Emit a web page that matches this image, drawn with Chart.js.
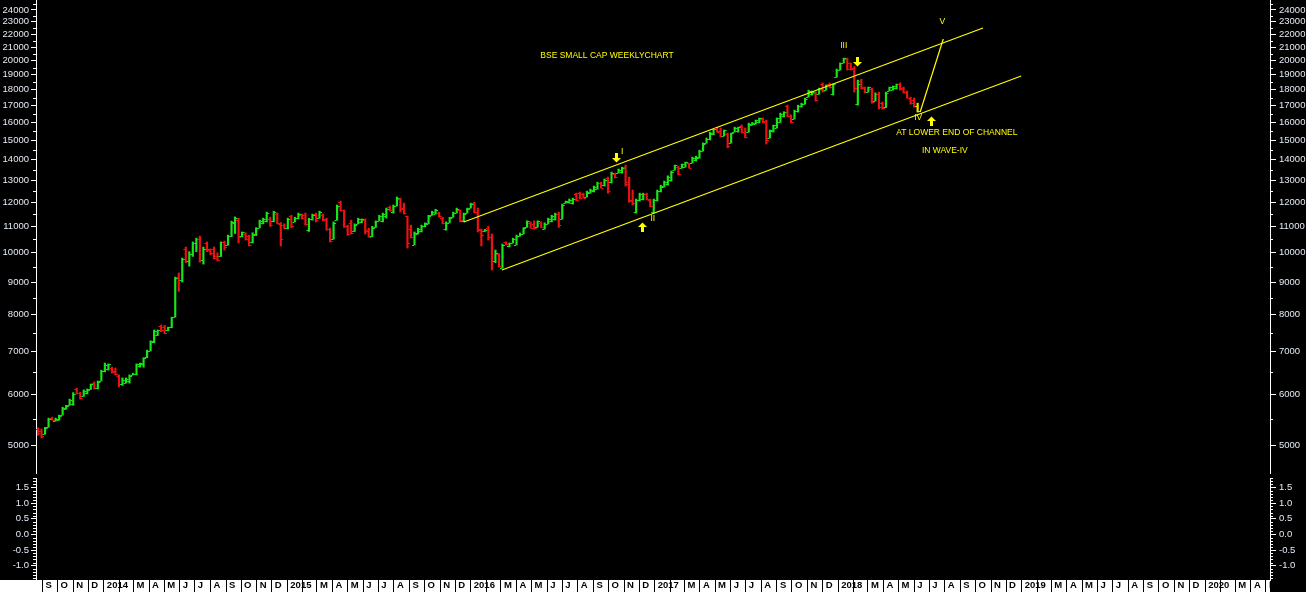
<!DOCTYPE html>
<html>
<head>
<meta charset="utf-8">
<script src="https://cdn.jsdelivr.net/npm/chart.js@4.4.1/dist/chart.umd.min.js"></script>
<style>
html,body{margin:0;padding:0;background:#000;overflow:hidden;}
#c{display:block;}
</style>
</head>
<body>
<canvas id="c" width="1306" height="592"></canvas>
<script>
// ---------------- DATA ----------------
const firstWeek = [2013, 7, 23];          // first weekly bar: 23 Aug 2013
const axisStart = [2013, 7, 19];          // x axis begins
const axisEnd   = [2020, 4, 9];           // x axis ends

const opens = [
5290,5260,5200,5340,5520,5460,5480,5580,5700,5770,5800,6120,6040,5960,6030,6110,6260,6150,6300,6520,
6580,6600,6540,6420,6220,6260,6300,6440,6450,6640,6700,6860,7030,7250,7440,7690,7650,7560,7640,7940,
9150,9050,10150,9700,9950,10350,10500,9750,10350,10120,10150,9900,9900,10400,10280,10620,11150,11250,10620,10700,
10620,10400,10650,10950,11150,11200,11300,11200,11500,11100,11050,10920,11400,11180,11330,11480,11450,10850,11300,11500,
11350,11480,11300,10900,10500,11250,12000,11650,11000,11150,10820,11100,11160,11250,10850,10620,10980,11220,11200,11400,
11800,11600,11850,12150,11750,11400,10900,10300,10720,10800,11000,11100,11450,11520,11550,11350,10900,11150,11380,11550,
11650,11200,11550,11750,11950,11600,10850,10810,10950,10600,9700,9950,9480,10380,10250,10360,10300,10630,10720,10960,
11150,11100,10960,11150,10900,11100,11200,11300,11500,11300,11960,12000,11950,12350,12400,12350,12250,12400,12500,12600,
12850,12750,13100,12900,13300,13350,13400,13650,12900,12100,11600,12080,12150,12350,12100,11600,12100,12500,12700,12800,
13000,13480,13650,13580,13650,13800,13830,13950,14100,14450,14850,15050,15350,15700,15500,15250,15350,14870,15450,15500,
15800,15450,15450,15870,15930,16000,16220,16100,15150,15500,15700,16050,16350,16950,16400,16200,16650,16950,17100,17550,
17700,17800,17750,18400,18000,18400,17700,18850,19350,19850,20100,19800,19500,17100,18600,18150,17870,18050,17300,17750,
17150,16900,17950,18000,18100,18400,18100,17880,17500,17350,16950
];
const highs = [
5320,5300,5330,5510,5530,5510,5570,5730,5770,5900,6040,6140,6050,6100,6120,6230,6280,6300,6550,6720,
6700,6620,6600,6440,6370,6370,6440,6480,6700,6720,6850,7040,7280,7570,7570,7710,7700,7650,7930,9160,
9300,9810,10210,10040,10400,10540,10620,10210,10400,10140,10210,10000,10400,10430,10660,11210,11380,11330,10780,10750,
10660,10750,10950,11250,11330,11580,11370,11620,11540,11150,11100,11330,11450,11370,11540,11500,11540,11330,11500,11540,
11620,11500,11330,10930,11180,11880,12050,11670,11050,11250,11100,11330,11300,11300,10930,11000,11220,11450,11540,11750,
11840,11880,12230,12180,11960,11420,11050,10780,10930,11050,11140,11450,11620,11700,11580,11370,11180,11370,11580,11750,
11670,11540,11750,11960,12000,11750,10900,10880,11000,10700,10100,9970,10320,10400,10360,10540,10660,10740,10950,11220,
11180,11220,11220,11180,11140,11330,11450,11540,11580,11920,12050,12140,12180,12400,12450,12400,12490,12580,12720,12900,
12900,13050,13140,13380,13330,13530,13620,13720,13140,12540,12140,12400,12400,12400,12140,12140,12540,12760,12950,13200,
13430,13720,13670,13770,13870,13820,14120,14170,14480,14860,15130,15450,15620,15730,15680,15570,15400,15400,15730,15730,
15850,15680,15960,16000,16140,16260,16260,16140,15570,15850,16260,16550,16630,17030,16440,16730,17030,17150,17470,17980,
17920,17850,18110,18450,18320,18450,18380,19400,19830,20180,20180,19830,19570,18640,18700,18180,18180,18110,17800,17850,
17220,17850,18180,18250,18380,18450,18180,17920,17530,17470,17150
];
const lows = [
5180,5130,5200,5330,5470,5450,5470,5570,5690,5770,5770,6010,5900,5960,6010,6110,6120,6120,6300,6510,
6550,6480,6440,6170,6200,6250,6250,6440,6440,6620,6620,6850,7020,7230,7420,7520,7470,7550,7630,7930,
8700,9000,9650,9530,9870,10040,9670,9600,10040,9930,9780,9710,9870,10100,10280,10600,10720,10360,10600,10470,
10250,10360,10640,10940,11100,11180,11000,11180,11100,10250,10900,10900,10940,11180,11300,11290,11050,10800,11250,11180,
11330,11220,10850,10400,10500,11250,11620,10960,10650,10700,10800,11100,11140,10700,10580,10600,10960,11220,11180,11330,
11620,11540,11840,11580,11500,10170,10550,10290,10700,10780,10980,11100,11450,11500,11370,11100,10850,11140,11370,11540,
11180,11180,11540,11750,11550,10780,10250,10800,10470,9400,9650,9500,9460,10290,10220,10360,10290,10620,10700,10960,
10930,10890,10960,10960,10890,11100,11180,11250,10960,11290,11960,11960,11920,12050,12140,12180,12230,12400,12450,12580,
12630,12720,12400,12860,13100,13330,13330,12720,12000,11880,11540,12050,12100,12100,11800,11540,12050,12450,12680,12760,
12950,13480,13240,13570,13620,13570,13820,13920,14070,14430,14850,15020,15300,15450,15180,15240,14600,14850,15450,15450,
15400,15130,15450,15850,15910,15970,15970,14800,15130,15450,15680,16000,16320,16320,15970,16200,16610,16910,17090,17530,
17660,17280,17720,17850,17980,18110,17660,18830,19330,19830,19330,19330,17850,17030,18050,17790,17850,17150,17280,16790,
16790,16880,17920,17980,18050,17980,17790,17470,17090,16910,16610
];
const closes = [
5220,5160,5320,5500,5480,5500,5560,5720,5760,5880,6020,6040,5920,6080,6100,6220,6150,6280,6540,6680,
6690,6500,6460,6220,6330,6340,6420,6470,6690,6710,6840,7030,7270,7550,7560,7560,7500,7640,7920,9130,
9050,9780,9720,9950,10350,10500,9750,10150,10100,9980,9830,9740,10380,10200,10640,11180,11330,10600,10760,10500,
10300,10700,10920,11200,11300,11550,11050,11600,11150,10500,10950,11300,11000,11350,11500,11320,11100,11300,11480,11250,
11600,11250,10900,10450,11150,11850,11650,11000,10700,10750,11050,11300,11280,10800,10600,10950,11200,11430,11500,11720,
11650,11850,12200,11700,11550,10350,10600,10750,10900,11000,11120,11420,11600,11680,11400,11130,11150,11350,11550,11720,
11250,11500,11720,11940,11600,10880,10650,10870,10600,9700,10000,9550,10300,10310,10350,10520,10640,10720,10930,11200,
10950,10920,11200,10990,11100,11300,11430,11500,11050,11900,12040,12100,12150,12100,12180,12200,12460,12560,12700,12880,
12650,13000,12500,13350,13150,13500,13600,12800,12050,11950,12100,12380,12350,12150,11850,12100,12500,12730,12930,13150,
13400,13700,13280,13760,13850,13600,14100,14150,14450,14830,15100,15420,15600,15480,15250,15550,14700,15380,15700,15720,
15450,15200,15930,15980,16120,16240,16000,15000,15550,15830,16230,16520,16600,16380,16050,16700,17000,17120,17440,17950,
17880,17350,18080,17900,18300,18150,18350,19350,19800,20150,19400,19400,18100,18400,18100,17850,18150,17250,17750,16900,
16850,17800,18150,18220,18350,18050,17850,17500,17150,16950,16700
];

// y-axis tick values
const priceLabels = [5000,6000,7000,8000,9000,10000,11000,12000,13000,14000,15000,16000,17000,18000,19000,20000,21000,22000,23000,24000];
const priceMinorTicks = [4500,5500,6500,7500,8500,9500,10500,11500,12500,13500,14500,15500,16500,17500,18500,19500,20500,21500,22500,23500,24500];
const oscLabels = [-1.0,-0.5,0.0,0.5,1.0,1.5];
const oscMinorTicks = [-1.4,-1.3,-1.2,-1.1,-0.9,-0.8,-0.7,-0.6,-0.4,-0.3,-0.2,-0.1,0.1,0.2,0.3,0.4,0.6,0.7,0.8,0.9,1.1,1.2,1.3,1.4,1.6,1.7,1.8];
const monthLetters = ['','','M','A','M','J','J','A','S','O','N','D'];

// trend lines [date, value]
const upperChannel = [['2015-12-18', 11175], ['2018-10-16', 22490]];
const lowerChannel = [['2016-03-03', 9397],  ['2018-12-31', 18917]];
const waveFive     = [['2018-06-13', 16613], ['2018-07-29', 21617]];

// annotations [text, date, value]
const notes = [
  ['BSE SMALL CAP WEEKLYCHART', '2016-09-28', 20330],
  ['I',   '2016-10-28', 14383],
  ['II',  '2016-12-28', 11294],
  ['III', '2018-01-12', 21080],
  ['IV',  '2018-06-09', 16257],
  ['V',   '2018-07-27', 22983],
  ['AT LOWER END OF CHANNEL', '2018-08-25', 15400],
  ['IN WAVE-IV', '2018-08-01', 14434]
];
// arrows [direction, date, value]
const arrows = [
  ['down', '2016-10-16', 14100],
  ['up',   '2016-12-07', 10973],
  ['down', '2018-02-07', 19897],
  ['up',   '2018-07-05', 16082]
];

// ---------------- helpers ----------------
const DAY = 86400000;
const EPOCH = Date.UTC(2014, 0, 1);
const dayOf = (y, m, d) => (Date.UTC(y, m, d) - EPOCH) / DAY;
const dayOfStr = s => { const p = s.split('-').map(Number); return dayOf(p[0], p[1] - 1, p[2]); };
const barDays = closes.map((_, i) => dayOf(firstWeek[0], firstWeek[1], firstWeek[2] + 7 * i));

const monthTicks = [], monthText = [];
for (let y = 2013; y <= 2020; y++) {
  for (let m = 0; m < 12; m++) {
    const d = dayOf(y, m, 1);
    if (d < dayOf(...axisStart) || d > dayOf(...axisEnd)) continue;
    monthTicks.push(d);
    monthText.push(m === 0 ? String(y) : monthLetters[m]);
  }
}

const GREEN = '#19e619', RED = '#ee1111', YEL = '#ffff00';
const barColors = closes.map((c, i) => i === closes.length - 1 ? '#e6e600' : (c >= opens[i] ? GREEN : RED));
const lineData = arr => arr.map(p => ({ x: dayOfStr(p[0]), y: p[1] }));

const AXIS_TXT = '#e4ebf5';
const fontAxis = { family: "'Liberation Sans', Arial, sans-serif", size: 9.5 };

const isMajorOsc = v => Math.abs(v * 2 - Math.round(v * 2)) < 1e-6;
const noPad = s => { s.paddingTop = 0; s.paddingBottom = 0; s.paddingLeft = 0; s.paddingRight = 0; };

function logAxis(pos, stack) {
  return {
    type: 'logarithmic', position: pos, stack: stack, stackWeight: 476,
    min: 4472, max: 24881, bounds: 'data',
    afterBuildTicks: s => { s.ticks = priceLabels.concat(priceMinorTicks).sort((a, b) => a - b).map(v => ({ value: v })); },
    afterFit: s => { s.width = 36; noPad(s); },
    ticks: { autoSkip: false, color: AXIS_TXT, font: fontAxis, padding: pos === 'left' ? 2 : 3,
             callback: v => (priceLabels.includes(v) ? String(v) : '') },
    grid: { drawOnChartArea: false, drawTicks: true, tickLength: pos === 'left' ? 5 : 6,
            tickColor: c => (priceLabels.includes(c.tick && c.tick.value) ? '#ffffff' : 'rgba(0,0,0,0)') },
    border: { display: true, color: '#ffffff', width: 1 }
  };
}
function oscAxis(pos, stack) {
  return {
    type: 'linear', position: pos, stack: stack, stackWeight: 104,
    min: -1.46, max: 1.87, bounds: 'data',
    afterBuildTicks: s => { s.ticks = oscLabels.concat(oscMinorTicks).sort((a, b) => a - b).map(v => ({ value: v })); },
    afterFit: s => { s.width = 36; noPad(s); },
    ticks: { autoSkip: false, color: AXIS_TXT, font: fontAxis, padding: pos === 'left' ? 2 : 3,
             callback: v => (isMajorOsc(v) ? v.toFixed(1) : '') },
    grid: { drawOnChartArea: false, drawTicks: true, tickLength: pos === 'left' ? 5 : 6,
            tickColor: c => (c.tick && isMajorOsc(c.tick.value) ? '#ffffff' : 'rgba(0,0,0,0)') },
    border: { display: true, color: '#ffffff', width: 1 }
  };
}

const drawPlugin = {
  id: 'drawPlugin',
  beforeDraw(chart) {
    const c = chart.ctx;
    c.save();
    c.fillStyle = '#000';
    c.fillRect(0, 0, chart.width, chart.height);
    const xs = chart.scales.x;
    c.fillStyle = '#ffffff';
    c.fillRect(0, xs.top, xs.right, xs.bottom - xs.top);
    c.restore();
  },
  afterDatasetsDraw(chart) {
    const c = chart.ctx, xs = chart.scales.x, ys = chart.scales.y;
    const ca = chart.chartArea;
    c.save();
    c.beginPath(); c.rect(ca.left, ca.top, ca.right - ca.left, ca.bottom - ca.top); c.clip();
    // open / close ticks
    for (let i = 0; i < closes.length; i++) {
      const px = xs.getPixelForValue(barDays[i]);
      const yo = Math.round(ys.getPixelForValue(opens[i]));
      const yc = Math.round(ys.getPixelForValue(closes[i]));
      c.fillStyle = barColors[i];
      c.fillRect(px - 2.5, yo, 2, 1);
      c.fillRect(px + 0.5, yc, 2, 1);
    }
    // arrows
    c.fillStyle = YEL;
    arrows.forEach(a => {
      const x = Math.round(xs.getPixelForValue(dayOfStr(a[1])));
      const y = Math.round(ys.getPixelForValue(a[2]));
      const dir = a[0] === 'down' ? 1 : -1;
      if (dir > 0) c.fillRect(x - 1, y - 5, 3, 5); else c.fillRect(x - 1, y, 3, 5);
      c.beginPath();
      c.moveTo(x - 4, y); c.lineTo(x + 5, y); c.lineTo(x + 0.5, y + dir * 4.5); c.closePath();
      c.fill();
    });
    // texts
    c.fillStyle = YEL;
    c.font = "8.5px 'Liberation Sans', Arial, sans-serif";
    c.textAlign = 'center';
    c.textBaseline = 'middle';
    notes.forEach(n => {
      c.fillText(n[0], xs.getPixelForValue(dayOfStr(n[1])), ys.getPixelForValue(n[2]));
    });
    c.restore();
  },
  afterDraw(chart) {
    const c = chart.ctx;
    c.save();
    c.strokeStyle = '#ffffff';
    c.lineWidth = 1;
    const minor = (id, vals, left, len) => {
      const s = chart.scales[id];
      vals.forEach(v => {
        const py = Math.round(s.getPixelForValue(v)) + 0.5;
        if (py < s.top || py > s.bottom) return;
        c.beginPath();
        if (left) { c.moveTo(s.right - len, py); c.lineTo(s.right, py); }
        else { c.moveTo(s.left, py); c.lineTo(s.left + len, py); }
        c.stroke();
      });
    };
    minor('y', priceMinorTicks, true, 3);
    minor('yR', priceMinorTicks, false, 3);
    minor('yLow', oscMinorTicks, true, 3);
    minor('yLowR', oscMinorTicks, false, 3);
    // gap between the panels on the axis lines
    const b = chart.scales.y.bottom;
    c.fillStyle = '#000';
    c.fillRect(chart.scales.y.right - 8, b - 2, 12, 4);
    c.fillRect(chart.scales.yR.left - 4, b - 2, 12, 4);
    c.restore();
  }
};

Chart.defaults.font.family = "'Liberation Sans', Arial, sans-serif";

new Chart(document.getElementById('c'), {
  type: 'bar',
  data: {
    datasets: [
      {
        type: 'bar', label: 'BSE Small Cap (weekly range)',
        data: barDays.map((d, i) => ({ x: d, y: [lows[i], highs[i]] })),
        backgroundColor: barColors, borderWidth: 0, barThickness: 1.5, grouped: false,
        xAxisID: 'x', yAxisID: 'y', order: 3
      },
      { type: 'line', label: 'Upper channel', data: lineData(upperChannel), borderColor: YEL, borderWidth: 1.2,
        pointRadius: 0, tension: 0, xAxisID: 'x', yAxisID: 'y', order: 1 },
      { type: 'line', label: 'Lower channel', data: lineData(lowerChannel), borderColor: YEL, borderWidth: 1.2,
        pointRadius: 0, tension: 0, xAxisID: 'x', yAxisID: 'y', order: 1 },
      { type: 'line', label: 'Wave V projection', data: lineData(waveFive), borderColor: YEL, borderWidth: 1.2,
        pointRadius: 0, tension: 0, xAxisID: 'x', yAxisID: 'y', order: 1 }
    ]
  },
  options: {
    responsive: false, animation: false, devicePixelRatio: 1,
    layout: { padding: 0 },
    plugins: { legend: { display: false }, tooltip: { enabled: false }, title: { display: false } },
    scales: {
      x: {
        type: 'linear', position: 'bottom', offset: false, bounds: 'data',
        min: dayOf(...axisStart), max: dayOf(...axisEnd),
        afterBuildTicks: s => { s.ticks = monthTicks.map(v => ({ value: v })); },
        afterFit: s => { s.height = 12; noPad(s); },
        ticks: { autoSkip: false, minRotation: 0, maxRotation: 0, align: 'start', labelOffset: 3, padding: -12,
                 color: '#000', font: { family: "'Liberation Sans Narrow', 'Liberation Sans', Arial, sans-serif", size: 9.5, weight: 'bold' },
                 callback: (v, i) => monthText[i] },
        grid: { drawOnChartArea: false, drawTicks: true, tickLength: 12, tickColor: '#000', tickWidth: 1, offset: false },
        border: { display: false }
      },
      yLow: oscAxis('left', 'L'),
      y: logAxis('left', 'L'),
      yR: logAxis('right', 'R'),
      yLowR: oscAxis('right', 'R')
    }
  },
  plugins: [drawPlugin]
});
</script>
</body>
</html>
